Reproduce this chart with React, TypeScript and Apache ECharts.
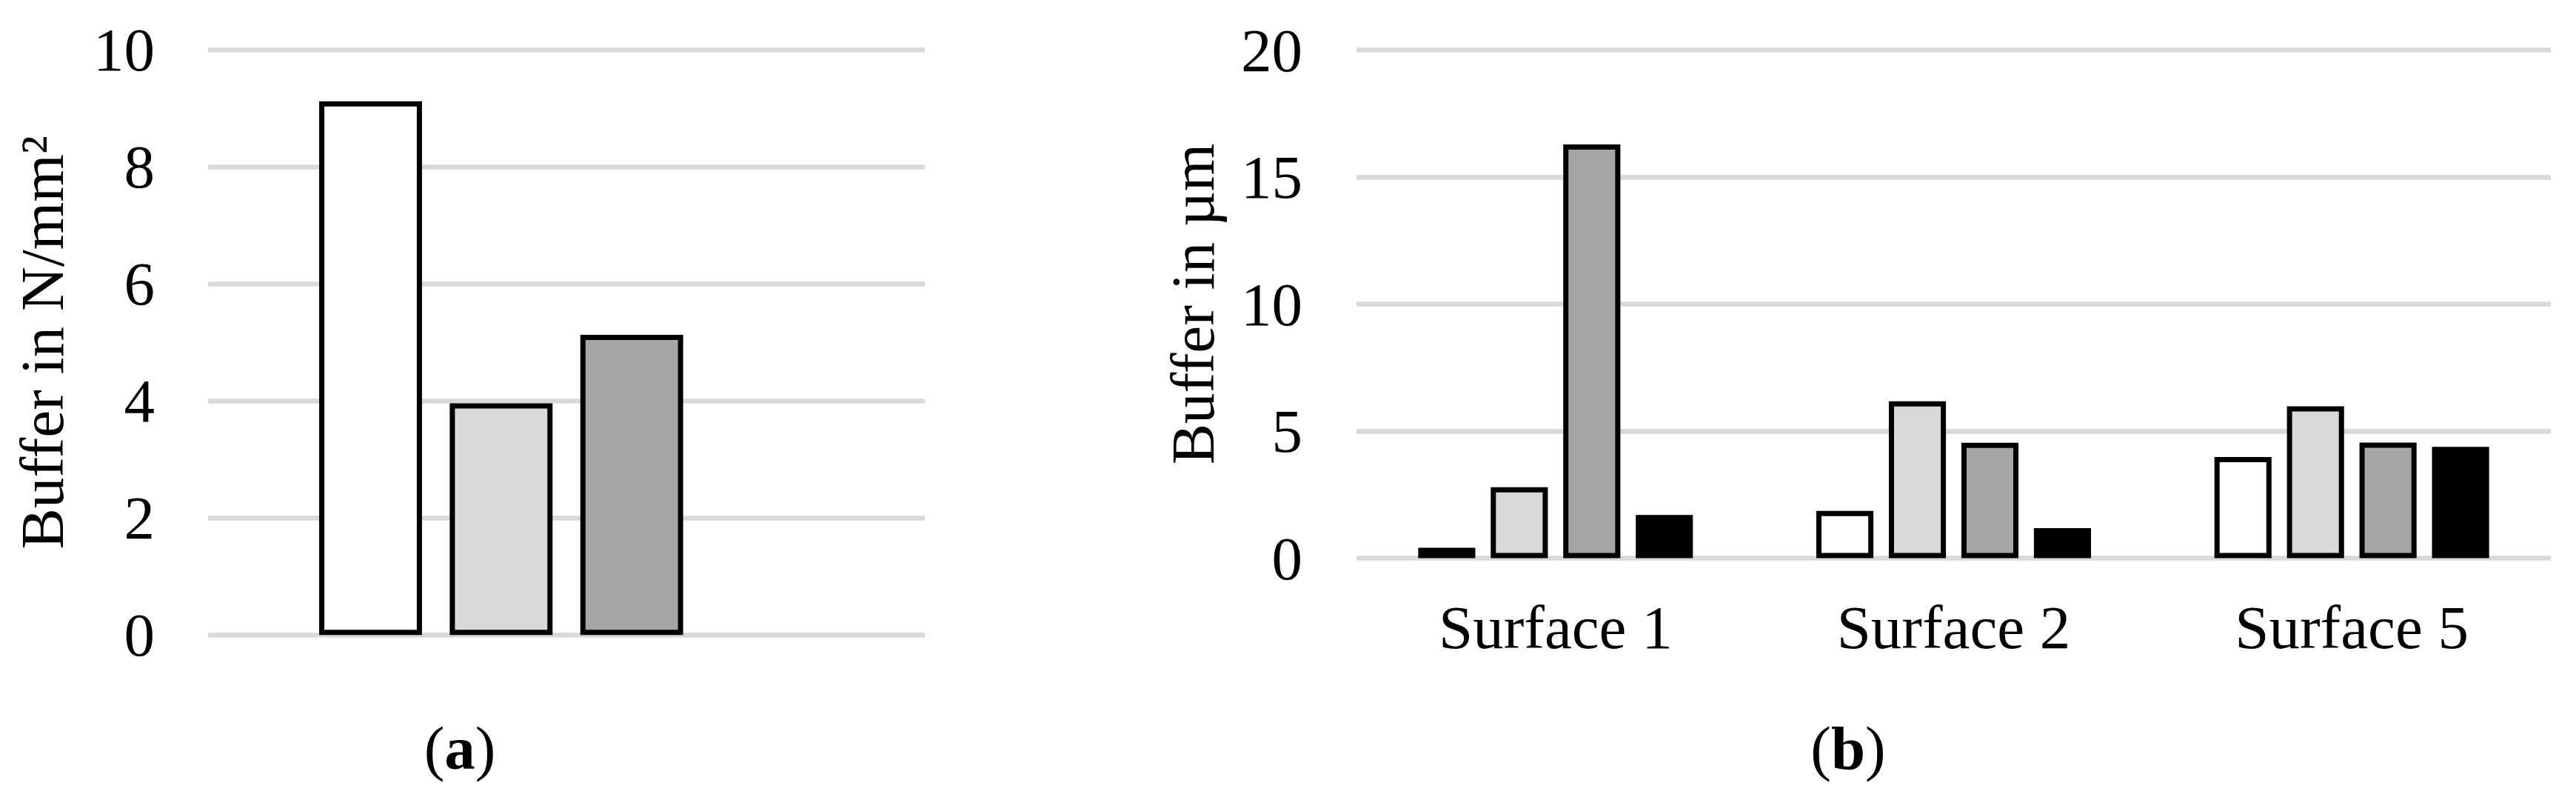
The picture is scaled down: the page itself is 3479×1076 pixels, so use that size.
import React, { useEffect, useRef } from "react";
import * as echarts from "echarts";

// ---- data ----
const categoriesA = [""];
const aWhite = [9.12];
const aLight = [3.96];
const aGray = [5.13];
const aBlack: (number | null)[] = [null];

const categoriesB = ["Surface 1", "Surface 2", "Surface 5"];
const bWhite = [0.41, 1.86, 3.98];
const bLight = [2.79, 6.17, 5.98];
const bGray = [16.28, 4.54, 4.55];
const bBlack = [1.7, 1.18, 4.38];

const yTicksA = { min: 0, max: 10, interval: 2 };
const yTicksB = { min: 0, max: 20, interval: 5 };

const titleA = "Buffer in N/mm²";
const titleB = "Buffer in µm";
const panelA = "a";
const panelB = "b";

const FONT = "Liberation Serif";
const FS = 83;
const fills = ["#FFFFFF", "#D9D9D9", "#A6A6A6", "#000000"];

export default function App() {
  const ref = useRef<HTMLDivElement>(null);
  useEffect(() => {
    if (!ref.current) return;
    const chart = echarts.init(ref.current, undefined, { renderer: "svg" });
    const mkBar = (data: (number | null)[], i: number, axisIndex: number) => ({
      type: "bar",
      name: "S" + (i + 1),
      xAxisIndex: axisIndex,
      yAxisIndex: axisIndex,
      data,
      barCategoryGap: "31%",
      barGap: "27%",
      itemStyle: { color: fills[i], borderColor: "#000000", borderWidth: 7 },
    });
    const yAxisCommon = {
      type: "value",
      axisLine: { show: false },
      axisTick: { show: false },
      splitLine: { show: true, lineStyle: { color: "#D9D9D9", width: 6.5 } },
      nameLocation: "middle",
      nameRotate: 90,
      nameTextStyle: { fontFamily: FONT, fontSize: FS, color: "#000" },
    };
    const panelText = (letter: string, x: number) => ({
      type: "text",
      x,
      y: 1010,
      style: {
        text: "{n|(}{b|" + letter + "}{n|)}",
        align: "center",
        verticalAlign: "middle",
        rich: {
          n: { fontFamily: FONT, fontSize: FS, fill: "#000", fontWeight: "normal" },
          b: { fontFamily: FONT, fontSize: FS, fill: "#000", fontWeight: "bold" },
        },
      },
    });
    chart.setOption({
      animation: false,
      backgroundColor: "#FFFFFF",
      grid: [
        { left: 281, top: 67.3, width: 968, height: 790 },
        { left: 1832, top: 67.5, width: 1613, height: 686 },
      ],
      xAxis: [
        {
          type: "category",
          gridIndex: 0,
          data: categoriesA,
          axisLine: { show: false },
          axisTick: { show: false },
          axisLabel: { show: false },
        },
        {
          type: "category",
          gridIndex: 1,
          data: categoriesB,
          axisLine: { show: false },
          axisTick: { show: false },
          axisLabel: {
            fontFamily: FONT,
            fontSize: FS,
            color: "#000",
            margin: 52,
          },
        },
      ],
      yAxis: [
        {
          ...yAxisCommon,
          gridIndex: 0,
          ...yTicksA,
          name: titleA,
          nameGap: 183,
          axisLabel: { fontFamily: FONT, fontSize: FS, color: "#000", margin: 72 },
        },
        {
          ...yAxisCommon,
          gridIndex: 1,
          ...yTicksB,
          name: titleB,
          nameGap: 180,
          axisLabel: { fontFamily: FONT, fontSize: FS, color: "#000", margin: 73 },
        },
      ],
      series: [
        mkBar(aWhite, 0, 0),
        mkBar(aLight, 1, 0),
        mkBar(aGray, 2, 0),
        mkBar(aBlack, 3, 0),
        mkBar(bWhite, 0, 1),
        mkBar(bLight, 1, 1),
        mkBar(bGray, 2, 1),
        mkBar(bBlack, 3, 1),
      ],
      graphic: [panelText(panelA, 621), panelText(panelB, 2496)],
    });
    return () => chart.dispose();
  }, []);
  return (
    <div
      ref={ref}
      style={{ position: "absolute", left: 0, top: 0, width: 3479, height: 1076, background: "#fff" }}
    />
  );
}
